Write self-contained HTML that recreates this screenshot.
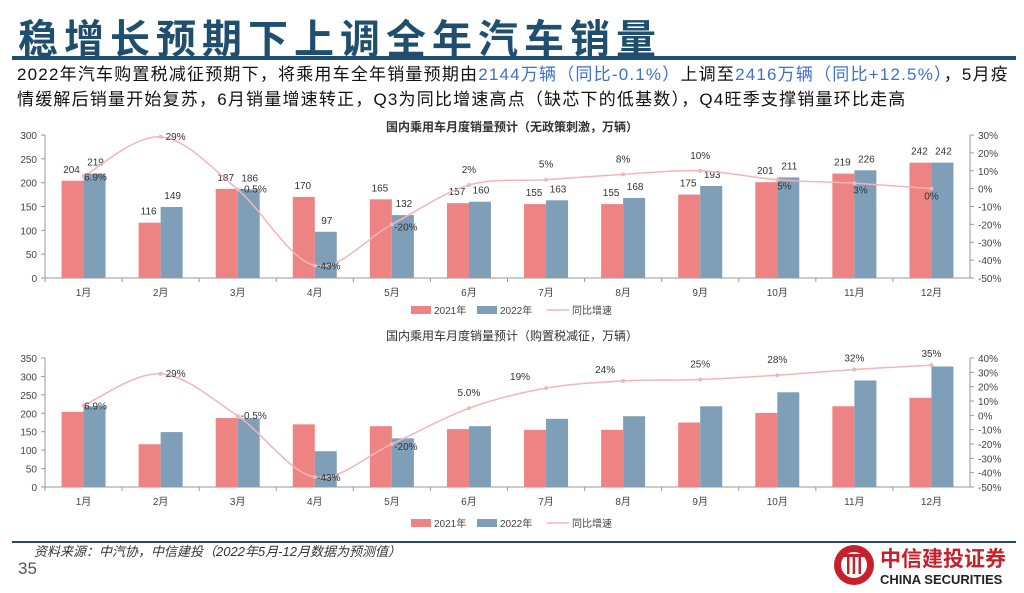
<!DOCTYPE html>
<html><head><meta charset="utf-8">
<style>
body{margin:0;width:1024px;height:588px;background:#fff;overflow:hidden;font-family:"Liberation Sans","Noto Sans CJK SC",sans-serif;position:relative}
#title{position:absolute;left:18px;top:7px;font-size:40px;font-weight:bold;color:#1f4e6e;letter-spacing:6px;font-family:"Noto Sans CJK SC",sans-serif;white-space:nowrap}
#rule{position:absolute;left:12px;top:56px;width:1004px;height:4px;background:#1f4e6e}
#para{position:absolute;left:17px;top:62px;width:1007px;font-size:17px;letter-spacing:1.2px;line-height:25px;color:#111}
.bl{color:#3d6fcf}
#foot-rule{position:absolute;left:12px;top:541px;width:1004px;height:2px;background:#1f4e6e}
#src{position:absolute;left:34px;top:541px;font-size:13px;font-style:italic;color:#333}
#pg{position:absolute;left:18px;top:559px;font-size:17px;color:#555}
#logo{position:absolute;left:832px;top:542px;width:190px;height:46px}
svg text{font-family:"Liberation Sans","Noto Sans CJK SC",sans-serif}
</style></head><body>
<div id="title">稳增长预期下上调全年汽车销量</div>
<div id="rule"></div>
<div id="para">2022年汽车购置税减征预期下，将乘用车全年销量预期由<span class="bl">2144万辆（同比-0.1%）</span>上调至<span class="bl">2416万辆（同比+12.5%）</span>，5月疫情缓解后销量开始复苏，6月销量增速转正，Q3为同比增速高点（缺芯下的低基数），Q4旺季支撑销量环比走高</div>
<svg id="charts" width="1024" height="588" style="position:absolute;left:0;top:0"></svg>
<div id="foot-rule"></div>
<div id="src">资料来源：中汽协，中信建投（2022年5月-12月数据为预测值）</div>
<div id="pg">35</div>
<div id="logo">
<svg width="190" height="46"><circle cx="22" cy="23" r="20" fill="#c8202a"/><circle cx="22" cy="23" r="13" fill="#fff"/><rect x="15" y="14" width="2.5" height="18" fill="#c8202a"/><rect x="20.7" y="14" width="2.5" height="18" fill="#c8202a"/><rect x="26.5" y="14" width="2.5" height="18" fill="#c8202a"/><rect x="9" y="12" width="26" height="3" fill="#c8202a"/>
<text x="48" y="24" font-size="21" font-weight="bold" fill="#c8202a" style="font-family:'Noto Sans CJK SC',sans-serif">中信建投证券</text>
<text x="48" y="42" font-size="13" font-weight="bold" fill="#222">CHINA SECURITIES</text></svg></div>
<script>
const months=["1月","2月","3月","4月","5月","6月","7月","8月","9月","10月","11月","12月"];
const sales2021=[204,116,187,170,165,157,155,155,175,201,219,242];
const top2022=[219,149,186,97,132,160,163,168,193,211,226,242];
const topGrowth=[6.9,29,-0.5,-43,-20,2,5,8,10,5,3,0];
const topGrowthLabels=["6.9%","29%","-0.5%","-43%","-20%","2%","5%","8%","10%","5%","3%","0%"];
const bot2022=[219,149,186,97,132,165,185,192,219,257,289,327];
const botGrowth=[6.9,29,-0.5,-43,-20,5.0,19,24,25,28,32,35];
const botGrowthLabels=["6.9%","29%","-0.5%","-43%","-20%","5.0%","19%","24%","25%","28%","32%","35%"];
const topLeftTicks=[0,50,100,150,200,250,300];
const topRightTicks=[-50,-40,-30,-20,-10,0,10,20,30];
const botLeftTicks=[0,50,100,150,200,250,300,350];
const botRightTicks=[-50,-40,-30,-20,-10,0,10,20,30,40];
const NS="http://www.w3.org/2000/svg";
const svg=document.getElementById('charts');
function mk(tag,attrs,parent,txt){const e=document.createElementNS(NS,tag);for(const k in attrs)e.setAttribute(k,attrs[k]);if(txt!==undefined)e.textContent=txt;(parent||svg).appendChild(e);return e;}
function smooth(pts){let d="M"+pts[0][0]+","+pts[0][1];for(let i=0;i<pts.length-1;i++){const p0=pts[i-1]||pts[i],p1=pts[i],p2=pts[i+1],p3=pts[i+2]||p2;const c1=[p1[0]+(p2[0]-p0[0])/6,p1[1]+(p2[1]-p0[1])/6],c2=[p2[0]-(p3[0]-p1[0])/6,p2[1]-(p3[1]-p1[1])/6];d+=" C"+c1+" "+c2+" "+p2;}return d;}
function chart(o){
 const g=mk('g',{});
 const x0=45,x1=970,step=(x1-x0)/12;
 const yL=v=>o.yb-(v-o.lmin)/(o.lmax-o.lmin)*(o.yb-o.yt);
 const yR=v=>o.yb-(v-o.rmin)/(o.rmax-o.rmin)*(o.yb-o.yt);
 const t=mk('text',{x:512,y:o.titleY,'font-size':12,'text-anchor':'middle',fill:'#333','font-weight':o.bold?'bold':'normal'},g,o.title);
 mk('line',{x1:x0,y1:o.yt,x2:x0,y2:o.yb,stroke:'#999'},g);
 mk('line',{x1:x1,y1:o.yt,x2:x1,y2:o.yb,stroke:'#999'},g);
 mk('line',{x1:x0,y1:o.yb,x2:x1,y2:o.yb,stroke:'#999'},g);
 o.lt.forEach(v=>{mk('line',{x1:x0-4,y1:yL(v),x2:x0,y2:yL(v),stroke:'#999'},g);const e=mk('text',{x:x0-8,y:yL(v)+4,'font-size':10,'text-anchor':'end',fill:'#444'},g,v);});
 o.rt.forEach(v=>{mk('line',{x1:x1,y1:yR(v),x2:x1+4,y2:yR(v),stroke:'#999'},g);const e=mk('text',{x:x1+8,y:yR(v)+4,'font-size':10,fill:'#444'},g,v+'%');});
 months.forEach((m,i)=>{const cx=x0+step*(i+0.5);
  mk('line',{x1:x0+step*i,y1:o.yb,x2:x0+step*i,y2:o.yb+4,stroke:'#999'},g);
  const r=mk('rect',{x:cx-22,y:yL(sales2021[i]),width:22,height:o.yb-yL(sales2021[i]),fill:'#ee8383'},g);
  const b=mk('rect',{x:cx,y:yL(o.s22[i]),width:22,height:o.yb-yL(o.s22[i]),fill:'#7f9fb8'},g);
  if(o.vals){mk('text',{x:cx-12,y:yL(sales2021[i])-8,'font-size':10,'text-anchor':'middle',fill:'#333'},g,sales2021[i]);mk('text',{x:cx+12,y:yL(o.s22[i])-8,'font-size':10,'text-anchor':'middle',fill:'#333'},g,o.s22[i]);}
  const ml=mk('text',{x:cx,y:o.yb+18,'font-size':10,'text-anchor':'middle',fill:'#444'},g,m);
 });
 const pts=o.gr.map((v,i)=>[x0+step*(i+0.5),yR(v)]);
 const p=mk('path',{d:smooth(pts),fill:'none',stroke:'#f3b5b8','stroke-width':1.5},g);
 pts.forEach((q,i)=>{mk('circle',{cx:q[0],cy:q[1],r:2,fill:'#f3b5b8'},g);const off=o.off[i];const l=mk('text',{x:q[0]+off[0],y:q[1]+off[1],'font-size':10,'text-anchor':'middle',fill:'#333'},g,o.gl[i]);});
 const ly=o.legY;
 const l1=mk('rect',{x:411,y:ly-5,width:20,height:8,fill:'#ee8383'},g);
 mk('text',{x:434,y:ly+3,'font-size':10,fill:'#444'},g,'2021年');
 const l2=mk('rect',{x:477,y:ly-5,width:20,height:8,fill:'#7f9fb8'},g);
 mk('text',{x:500,y:ly+3,'font-size':10,fill:'#444'},g,'2022年');
 const l3=mk('line',{x1:547,y1:ly-1,x2:569,y2:ly-1,stroke:'#f3b5b8','stroke-width':1.5},g);
 mk('text',{x:572,y:ly+3,'font-size':10,fill:'#444'},g,'同比增速');
}
chart({name:'chart-no-stimulus',title:'国内乘用车月度销量预计（无政策刺激，万辆）',bold:true,titleY:131,yt:135,yb:278,lmin:0,lmax:300,rmin:-50,rmax:30,lt:topLeftTicks,rt:topRightTicks,s22:top2022,gr:topGrowth,gl:topGrowthLabels,vals:true,legY:311,
 off:[[12,4],[15,3],[16,3],[14,4],[14,6],[0,-12],[0,-12],[0,-12],[0,-12],[7,10],[6,10],[0,11]]});
chart({name:'chart-tax-cut',title:'国内乘用车月度销量预计（购置税减征，万辆）',bold:false,titleY:340,yt:358,yb:487,lmin:0,lmax:350,rmin:-50,rmax:40,lt:botLeftTicks,rt:botRightTicks,s22:bot2022,gr:botGrowth,gl:botGrowthLabels,vals:false,legY:524,
 off:[[12,4],[15,3],[16,3],[14,4],[14,6],[0,-12],[-26,-8],[-18,-8],[0,-12],[0,-12],[0,-8],[0,-8]]});
</script>
</body></html>
